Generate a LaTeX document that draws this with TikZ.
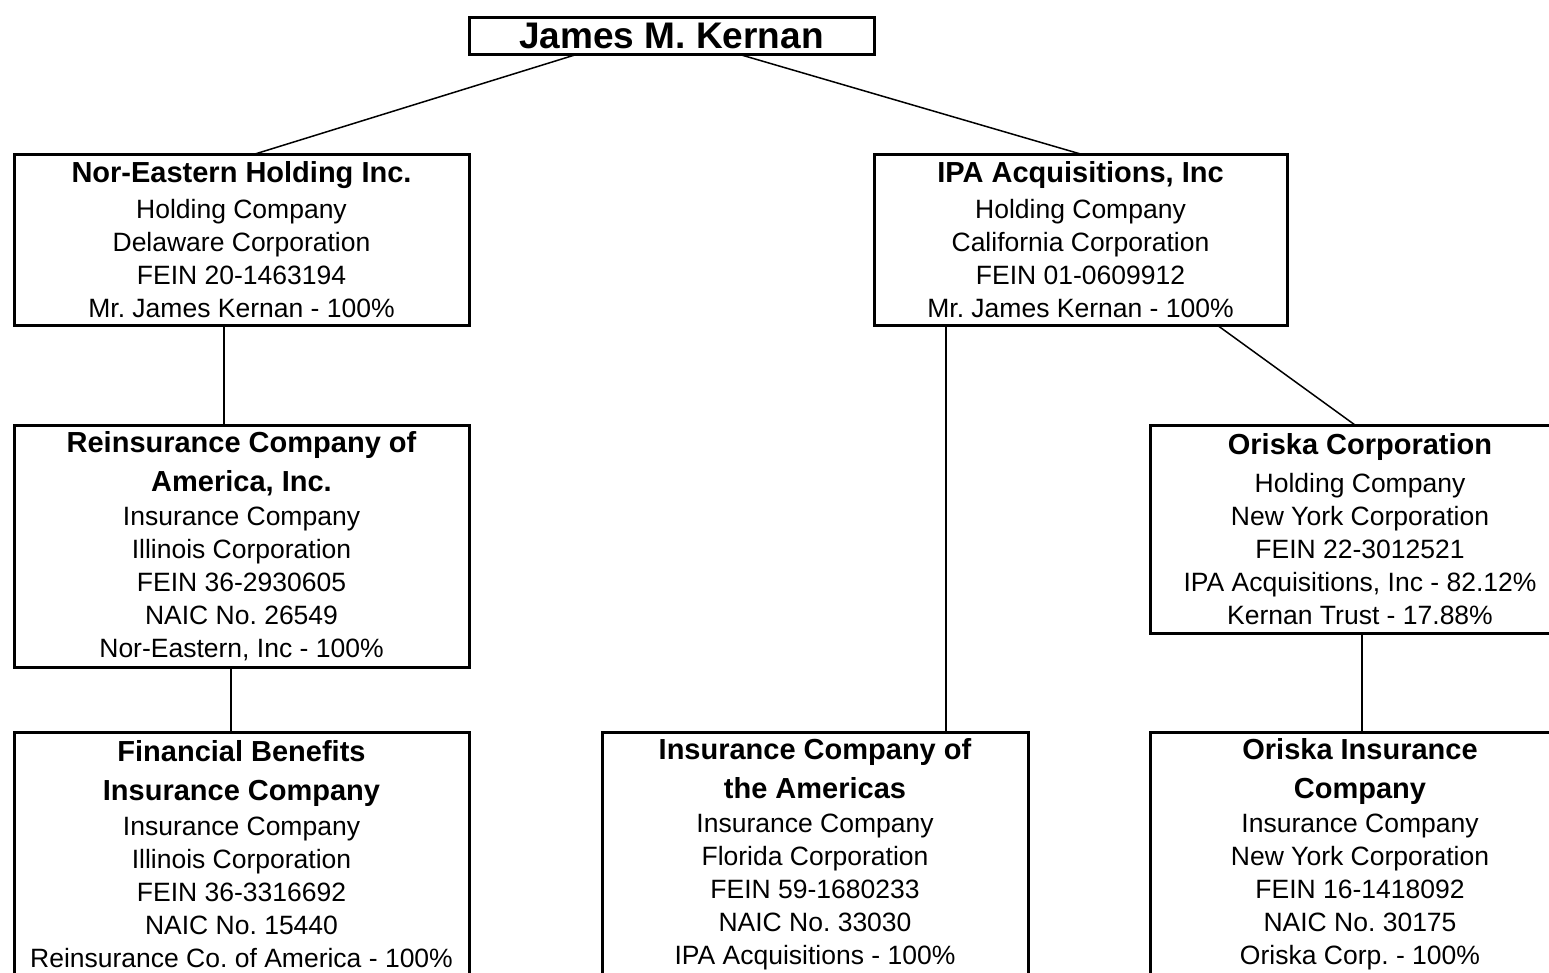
\documentclass[tikz,border=0pt]{standalone}
\usepackage{fontspec}
\setmainfont{Liberation Sans}
\frenchspacing
\tikzset{
  orgbox/.style={draw, line width=3pt, rectangle, inner sep=0pt, outer sep=0pt, align=center,
    font=\fontsize{26.5}{33}\selectfont},
  conn/.style={line width=1.5pt},
}
\newcommand{\bt}[1]{{\bfseries\fontsize{29}{39}\selectfont #1}}
\begin{document}
\begin{tikzpicture}[x=1pt,y=-1pt]
\useasboundingbox (0,0) rectangle (1549,972);
\node[orgbox, minimum width=405pt, minimum height=37pt, font=\bfseries\fontsize{37}{40}\selectfont] (james) at (671.5,35.5) {James M. Kernan};
\node[orgbox, minimum width=455pt, minimum height=171pt] (nor) at (241.5,239.5)
  {\bt{Nor-Eastern Holding Inc.}\\[2.5pt]Holding Company\\Delaware Corporation\\FEIN 20-1463194\\Mr. James Kernan - 100\%};
\node[orgbox, minimum width=413pt, minimum height=171pt] (ipa) at (1080.5,239.5)
  {\bt{IPA Acquisitions, Inc}\\[2.5pt]Holding Company\\California Corporation\\FEIN 01-0609912\\Mr. James Kernan - 100\%};
\node[orgbox, minimum width=455pt, minimum height=242pt] (reins) at (241.5,546)
  {\bt{Reinsurance Company of}\\[6pt]\bt{America, Inc.}\\[1.5pt]Insurance Company\\Illinois Corporation\\FEIN 36-2930605\\NAIC No. 26549\\Nor-Eastern, Inc - 100\%};
\node[orgbox, minimum width=420pt, minimum height=208pt] (oriska) at (1360,529)
  {\bt{Oriska Corporation}\\[5pt]Holding Company\\New York Corporation\\FEIN 22-3012521\\IPA Acquisitions, Inc - 82.12\%\\Kernan Trust - 17.88\%};
\node[orgbox, minimum width=455pt, minimum height=244pt] (fin) at (241.5,854)
  {\bt{Financial Benefits}\\[6pt]\bt{Insurance Company}\\[1.5pt]Insurance Company\\Illinois Corporation\\FEIN 36-3316692\\NAIC No. 15440\\Reinsurance Co. of America - 100\%};
\node[orgbox, minimum width=426pt, minimum height=244pt] (ica) at (815,854)
  {\bt{Insurance Company of}\\[6pt]\bt{the Americas}\\[1.5pt]Insurance Company\\Florida Corporation\\FEIN 59-1680233\\NAIC No. 33030\\IPA Acquisitions - 100\%};
\node[orgbox, minimum width=420pt, minimum height=244pt] (oins) at (1360,854)
  {\bt{Oriska Insurance}\\[6pt]\bt{Company}\\[1.5pt]Insurance Company\\New York Corporation\\FEIN 16-1418092\\NAIC No. 30175\\Oriska Corp. - 100\%};
\draw[conn] ([xshift=-93.5pt]james.south) -- ([xshift=13.5pt]nor.north);
\draw[conn] ([xshift=66.5pt]james.south) -- (ipa.north);
\draw[conn] ([xshift=-17.5pt]nor.south) -- ([xshift=-17.5pt]reins.north);
\draw[conn] ([xshift=-134.5pt]ipa.south) -- ([xshift=131pt]ica.north);
\draw[conn] ([xshift=136.5pt]ipa.south) -- ([xshift=-5pt]oriska.north);
\draw[conn] ([xshift=-10.5pt]reins.south) -- ([xshift=-10.5pt]fin.north);
\draw[conn] ([xshift=2pt]oriska.south) -- ([xshift=2pt]oins.north);
\end{tikzpicture}
\end{document}
